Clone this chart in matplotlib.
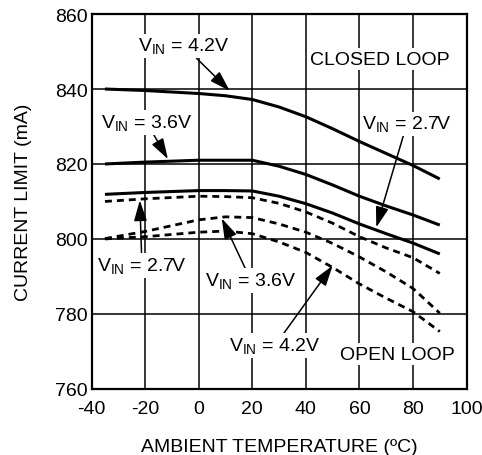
import matplotlib
matplotlib.use('Agg')
import matplotlib.pyplot as plt

plt.rcParams['font.family'] = ['Liberation Sans', 'DejaVu Sans']
plt.rcParams['mathtext.fontset'] = 'custom'
plt.rcParams['mathtext.rm'] = 'Liberation Sans'
plt.rcParams['axes.unicode_minus'] = False

# temperature points (deg C)
temp = [-35, -20, 0, 10, 20, 30, 40, 50, 60, 70, 80, 90]

# closed loop current limit (mA)
closed_42 = [840.0, 839.6, 838.8, 838.2, 837.2, 835.2, 832.6, 829.4, 826.0, 822.8, 819.6, 816.0]
closed_36 = [820.0, 820.5, 821.0, 821.0, 821.0, 819.4, 817.2, 814.4, 811.4, 808.8, 806.4, 803.7]
closed_27 = [811.9, 812.4, 812.9, 812.9, 812.8, 811.4, 809.4, 806.9, 804.0, 801.4, 798.9, 796.0]

# open loop current limit (mA)
open_27 = [810.0, 810.7, 811.4, 811.3, 811.0, 809.5, 807.2, 804.2, 800.6, 797.6, 795.0, 790.8]
open_36 = [800.1, 802.0, 805.1, 805.9, 805.7, 804.0, 801.8, 798.8, 795.2, 791.2, 786.8, 780.2]
open_42 = [800.0, 800.6, 801.8, 802.1, 801.4, 799.2, 796.4, 792.4, 788.0, 784.2, 780.6, 775.3]

xticks = [-40, -20, 0, 20, 40, 60, 80, 100]
yticks = [760, 780, 800, 820, 840, 860]

fig = plt.figure(figsize=(4.82, 4.56), dpi=100)
ax = fig.add_axes([0.190, 0.145, 0.778, 0.822])

for y in [closed_42, closed_36, closed_27]:
    ax.plot(temp, y, color='black', lw=2.2, zorder=4, solid_capstyle='butt')
for y in [open_27, open_36, open_42]:
    ax.plot(temp, y, color='black', lw=2.0, ls=(0, (2.5, 1.8)), zorder=4)

ax.set_xlim(-40, 100)
ax.set_ylim(760, 860)
ax.set_xticks(xticks)
ax.set_yticks(yticks)
ax.grid(True, color='black', lw=1.1)
ax.set_axisbelow(True)
ax.tick_params(length=0, labelsize=14)
ax.tick_params(axis='x', pad=8)
ax.tick_params(axis='y', pad=3)
for s in ax.spines.values():
    s.set_linewidth(1.6)

ax.set_xlabel('AMBIENT TEMPERATURE (ºC)', fontsize=14, labelpad=15)
ax.set_ylabel('CURRENT LIMIT (mA)', fontsize=14, labelpad=16)

box = dict(facecolor='white', edgecolor='none', pad=1.5)
arrow = dict(arrowstyle='-|>,head_length=0.7,head_width=0.22', color='black', lw=1.1,
             mutation_scale=18, shrinkA=0, shrinkB=0)
txt = dict(fontsize=14, ha='center', va='center', bbox=box, zorder=3)

ax.annotate('V$_\\mathrm{IN}$ = 4.2V', xy=(11.6, 839.5), xytext=(-5.5, 851.5),
            arrowprops=arrow, **txt)
ax.annotate('V$_\\mathrm{IN}$ = 3.6V', xy=(-11.5, 821.3), xytext=(-19.4, 831.0),
            arrowprops=arrow, **txt)
ax.annotate('V$_\\mathrm{IN}$ = 2.7V', xy=(66.3, 803.1), xytext=(77.7, 830.7),
            arrowprops=arrow, **txt)
ax.annotate('V$_\\mathrm{IN}$ = 2.7V', xy=(-22.0, 810.3), xytext=(-21.2, 792.9),
            arrowprops=arrow, **txt)
ax.annotate('V$_\\mathrm{IN}$ = 3.6V', xy=(8.6, 805.5), xytext=(19.5, 788.9),
            arrowprops=arrow, **txt)
ax.annotate('V$_\\mathrm{IN}$ = 4.2V', xy=(50.0, 792.9), xytext=(28.4, 771.5),
            arrowprops=arrow, **txt)

ax.text(67.6, 848.0, 'CLOSED LOOP', **txt)
ax.text(74.0, 769.3, 'OPEN LOOP', **txt)

fig.savefig('out.png', dpi=100)
